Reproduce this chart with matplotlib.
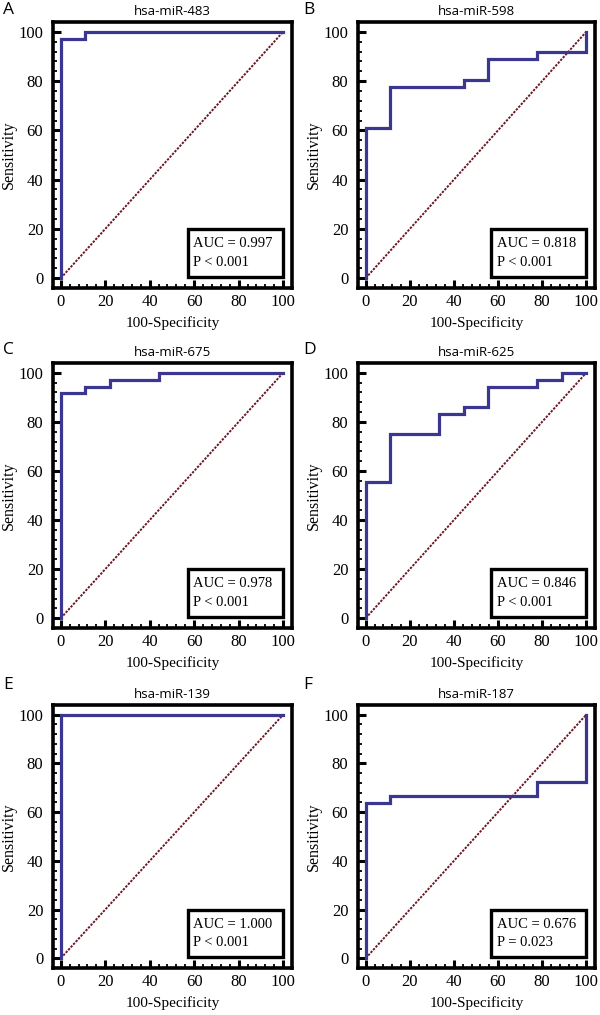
"""ROC curves for six candidate miRNAs, 3x2 grid, MedCalc-style panels."""

import matplotlib
matplotlib.use("Agg")
import matplotlib.pyplot as plt
from matplotlib.patches import Rectangle
from matplotlib.ticker import MultipleLocator

# ROC corner points (100-Specificity, Sensitivity)
FPR_483 = [0, 0, 11.1, 11.1, 100]
TPR_483 = [0, 97.2, 97.2, 100, 100]

FPR_598 = [0, 0, 11.1, 11.1, 44.4, 44.4, 55.6, 55.6, 77.8, 77.8, 100, 100]
TPR_598 = [0, 61.1, 61.1, 77.8, 77.8, 80.6, 80.6, 88.9, 88.9, 91.7, 91.7, 100]

FPR_675 = [0, 0, 11.1, 11.1, 22.2, 22.2, 44.4, 44.4, 100]
TPR_675 = [0, 91.7, 91.7, 94.4, 94.4, 97.2, 97.2, 100, 100]

FPR_625 = [0, 0, 11.1, 11.1, 33.3, 33.3, 44.4, 44.4, 55.6, 55.6,
           77.8, 77.8, 88.9, 88.9, 100]
TPR_625 = [0, 55.6, 55.6, 75.0, 75.0, 83.3, 83.3, 86.1, 86.1, 94.4,
           94.4, 97.2, 97.2, 100, 100]

FPR_139 = [0, 0, 100]
TPR_139 = [0, 100, 100]

FPR_187 = [0, 0, 11.1, 11.1, 77.8, 77.8, 100, 100]
TPR_187 = [0, 63.9, 63.9, 66.7, 66.7, 72.2, 72.2, 100]

LETTERS = ["A", "B", "C", "D", "E", "F"]
TITLES = ["hsa-miR-483", "hsa-miR-598", "hsa-miR-675",
          "hsa-miR-625", "hsa-miR-139", "hsa-miR-187"]
AUCS = ["0.997", "0.818", "0.978", "0.846", "1.000", "0.676"]
PVALS = ["P < 0.001", "P < 0.001", "P < 0.001",
         "P < 0.001", "P < 0.001", "P = 0.023"]
CURVES = [(FPR_483, TPR_483), (FPR_598, TPR_598), (FPR_675, TPR_675),
          (FPR_625, TPR_625), (FPR_139, TPR_139), (FPR_187, TPR_187)]
DIAG = [0, 100]

W, H = 600, 1015
# axes frames in pixels: (left, right) per column, (top, bottom) per row
COL_X = [(53, 292), (358, 595)]
ROW_Y = [(22, 288), (363, 628), (705, 968)]
LETTER_Y = [10, 350, 685]

ROC_COLOR = "#3b3791"
DIAG_COLOR = "#6a1822"
SERIF = "Liberation Serif"
SANS = "Open Sans"


def draw_panel(ax, fpr, tpr, title, auc, pval):
    ax.plot(DIAG, DIAG, color=DIAG_COLOR, linestyle=(0, (1.2, 0.7)),
            linewidth=1.4, zorder=2)
    ax.plot(fpr, tpr, color=ROC_COLOR, linewidth=2.3, zorder=3,
            solid_joinstyle="miter", clip_on=False)
    ax.set_xlim(-3.5, 104)
    ax.set_ylim(-4, 104)
    ax.xaxis.set_major_locator(MultipleLocator(20))
    ax.yaxis.set_major_locator(MultipleLocator(20))
    ax.xaxis.set_minor_locator(MultipleLocator(4))
    ax.yaxis.set_minor_locator(MultipleLocator(4))
    ax.tick_params(which="major", direction="in", length=6, width=2.2,
                   labelsize=12)
    ax.tick_params(axis="y", which="major", pad=7)
    ax.tick_params(axis="x", which="major", pad=4)
    ax.tick_params(which="minor", direction="in", length=3, width=1.3)
    for lab in ax.get_xticklabels() + ax.get_yticklabels():
        lab.set_fontfamily(SERIF)
    for sp in ax.spines.values():
        sp.set_linewidth(2.6)
    ax.set_xlabel("100-Specificity", fontfamily=SERIF, fontsize=11, labelpad=5)
    ax.set_ylabel("Sensitivity", fontfamily=SERIF, fontsize=11.5, labelpad=1)
    ax.set_title(title, fontfamily=SANS, fontsize=9.5, pad=5)

    ax.add_patch(Rectangle((57, 0.5), 43, 19.5, fill=True, facecolor="white",
                           edgecolor="black", linewidth=2.4, zorder=4))
    ax.text(59.5, 14, f"AUC = {auc}", fontfamily=SERIF, fontsize=10.5,
            va="center", ha="left", zorder=5)
    ax.text(59.5, 6.5, pval, fontfamily=SERIF, fontsize=10.5,
            va="center", ha="left", zorder=5)


fig = plt.figure(figsize=(W / 100, H / 100), dpi=100)
for i, ((fpr, tpr), title, auc, pval, letter) in enumerate(
        zip(CURVES, TITLES, AUCS, PVALS, LETTERS)):
    row, col = divmod(i, 2)
    x0, x1 = COL_X[col]
    y0, y1 = ROW_Y[row]
    ax = fig.add_axes([x0 / W, 1 - y1 / H, (x1 - x0) / W, (y1 - y0) / H])
    draw_panel(ax, fpr, tpr, title, auc, pval)
    fig.text((3 + 300 * col) / W, 1 - LETTER_Y[row] / H, letter,
             fontfamily=SANS, fontsize=12.5, ha="left", va="center")

fig.savefig("out.png", dpi=100)
